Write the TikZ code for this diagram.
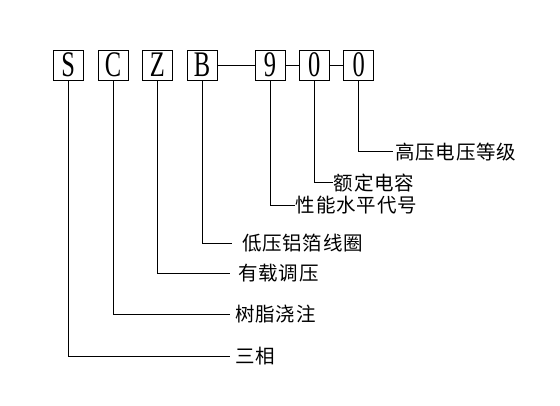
\documentclass[tikz,border=0pt]{standalone}
\usepackage{fontspec}
\setmainfont{Liberation Serif}
\newfontfamily\cjk{Noto Sans CJK SC}[LetterSpace=4]
\begin{document}
\begin{tikzpicture}[x=1pt,y=-1pt,line width=0.8pt,
  codebox/.style={draw,minimum width=30pt,minimum height=30pt,inner sep=0pt,
    font=\fontsize{36}{36}\selectfont},
  lab/.style={anchor=west,inner ysep=0pt,font=\cjk\fontsize{19.5}{19.5}\selectfont}]
\useasboundingbox (0,0) rectangle (560,406);
\node[codebox] (bS) at (68.3,65) {\scalebox{0.68}[1]{S}};
\node[codebox] (bC) at (113,65) {\scalebox{0.68}[1]{C}};
\node[codebox] (bZ) at (157.3,65) {\scalebox{0.68}[1]{Z}};
\node[codebox] (bB) at (202,65) {\scalebox{0.68}[1]{B}};
\node[codebox] (b9) at (270,65) {\scalebox{0.68}[1]{9}};
\node[codebox] (bA) at (314.3,65) {\scalebox{0.68}[1]{0}};
\node[codebox] (bD) at (358.7,65) {\scalebox{0.68}[1]{0}};
\draw (bB) -- (b9);
\draw (b9) -- (bA);
\draw (bA) -- (bD);
\node[lab,inner xsep=2pt] (tD) at (393,151.7) {高压电压等级};
\node[lab,inner xsep=0.5pt] (tA) at (333,182.7) {额定电容};
\node[lab,inner xsep=0.5pt] (t9) at (295,205) {性能水平代号};
\node[lab,inner xsep=10pt] (tB) at (231.7,243.5) {低压铝箔线圈};
\node[lab,inner xsep=8pt] (tZ) at (230,273.3) {有载调压};
\node[lab,inner xsep=5pt] (tC) at (230,314) {树脂浇注};
\node[lab,inner xsep=5pt] (tS) at (230,356) {三相};
\draw (bD.south) |- (tD.west);
\draw (bA.south) |- (tA.west);
\draw (b9.south) |- (t9.west);
\draw (bB.south) |- (tB.west);
\draw (bZ.south) |- (tZ.west);
\draw (bC.south) |- (tC.west);
\draw (bS.south) |- (tS.west);
\end{tikzpicture}
\end{document}
